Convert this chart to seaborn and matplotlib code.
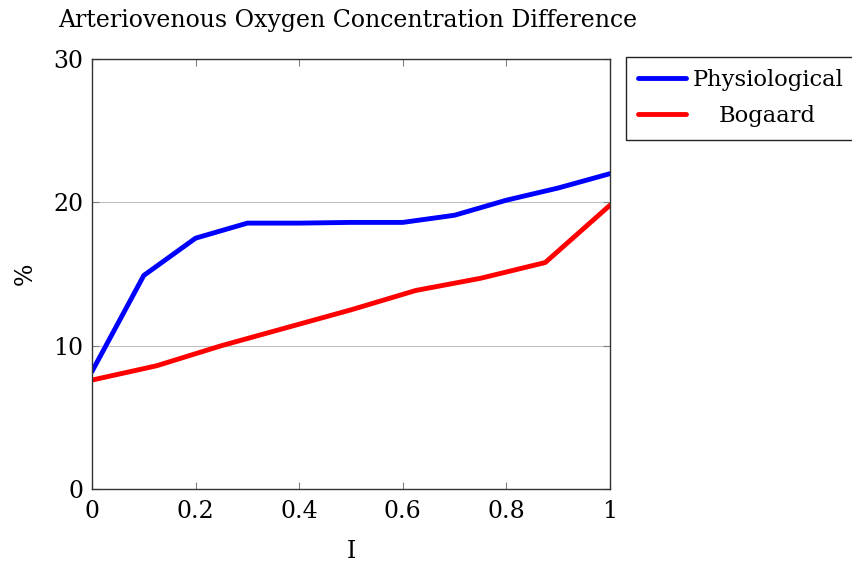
import numpy as np
import pandas as pd
import matplotlib
matplotlib.use("Agg")
import matplotlib.pyplot as plt
import seaborn as sns

# data
phys_x = [0.0, 0.1, 0.2, 0.3, 0.4, 0.5, 0.6, 0.7, 0.8, 0.9, 1.0]
phys_y = [8.2, 14.9, 17.5, 18.55, 18.55, 18.6, 18.6, 19.1, 20.15, 21.0, 22.0]

bog_x = [0.0, 0.125, 0.25, 0.375, 0.5, 0.625, 0.75, 0.875, 1.0]
bog_y = [7.6, 8.6, 10.0, 11.25, 12.5, 13.85, 14.7, 15.8, 19.8]

x_ticks = [0, 0.2, 0.4, 0.6, 0.8, 1]
x_labels = ["0", "0.2", "0.4", "0.6", "0.8", "1"]
y_ticks = [0, 10, 20, 30]

sns.set_style("white")
plt.rcParams['font.family'] = ['DejaVu Serif']
plt.rcParams['text.color'] = 'black'
plt.rcParams['axes.labelcolor'] = 'black'
plt.rcParams['xtick.color'] = 'black'
plt.rcParams['ytick.color'] = 'black'

fs = 17

fig = plt.figure(figsize=(8.52, 5.63), dpi=100)
ax = fig.add_axes([92/852, 74/563, 518/852, 430/563])

phys = pd.DataFrame({"I": phys_x, "val": phys_y})
bog = pd.DataFrame({"I": bog_x, "val": bog_y})
sns.lineplot(data=phys, x="I", y="val", color="#0000ff", lw=3.5, label="Physiological", ax=ax)
sns.lineplot(data=bog, x="I", y="val", color="#ff0000", lw=3.5, label="Bogaard", ax=ax)

ax.set_xlim(0, 1)
ax.set_ylim(0, 30)
ax.set_xticks(x_ticks)
ax.set_xticklabels(x_labels)
ax.set_yticks(y_ticks)
ax.yaxis.grid(True, color="#c0c0c0", lw=0.8)
ax.set_axisbelow(True)

ax.tick_params(direction="in", length=5, width=0.8, color="#808080",
               top=True, right=True, bottom=True, left=True, labelsize=fs,
               labelcolor="black")
ax.tick_params(axis="x", pad=8)
ax.tick_params(axis="y", pad=6)
for s in ax.spines.values():
    s.set_color("#333333")
    s.set_linewidth(1.0)

ax.set_xlabel("I", fontsize=fs, labelpad=12)
ax.set_ylabel("%", fontsize=fs, labelpad=12)
ax.set_title("Arteriovenous Oxygen Concentration Difference", fontsize=fs,
             pad=23, loc="left", x=-0.066)

leg = ax.legend(loc="upper left", bbox_to_anchor=(1.03, 1.005), fontsize=16.3,
                frameon=True, fancybox=False, edgecolor="#222222", framealpha=1,
                handlelength=2.1, borderpad=0.55, labelspacing=0.62, handletextpad=0.3,
                borderaxespad=0)
leg.get_frame().set_linewidth(1.0)

# centre the shorter legend entry like pgfplots does
fig.canvas.draw()
r = fig.canvas.get_renderer()
texts = leg.get_texts()
wmax = max(t.get_window_extent(r).width for t in texts)
for t in texts:
    t.set_x((wmax - t.get_window_extent(r).width) / 2)

fig.savefig("out.png", dpi=100)
